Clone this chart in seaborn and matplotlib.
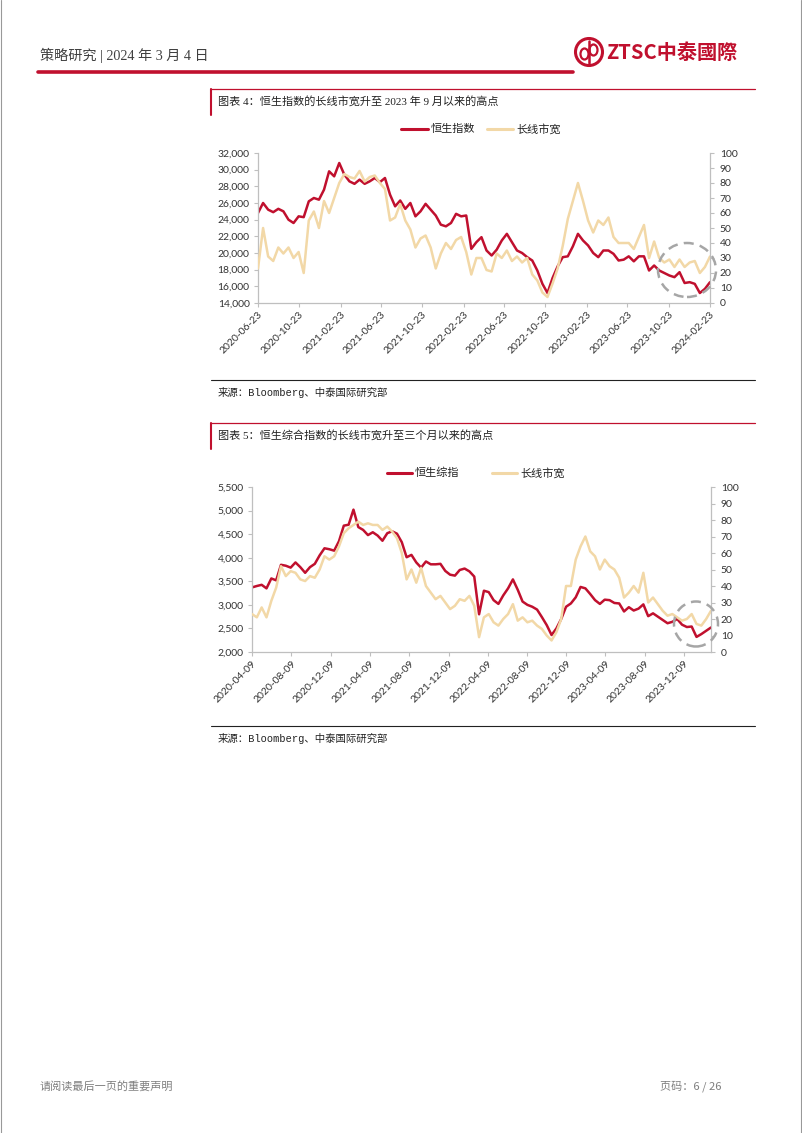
import numpy as np
import pandas as pd
import seaborn as sns
import matplotlib.pyplot as plt
from matplotlib.lines import Line2D
from matplotlib.patches import Ellipse

# ---------------- 数据 ----------------
# 图表4：恒生指数 vs 长线市宽（约每15天读一个点）
hsi_start, hsi_end = '2020-06-23', '2024-02-23'
hsi = [24800, 26000, 25200, 24900, 25300, 25000, 24000, 23600, 24400, 24300,
       26200, 26600, 26400, 27600, 29800, 29200, 30800, 29400, 28600, 28300,
       28800, 28300, 28600, 29000, 28500, 29000, 27000, 25600, 26300, 25300,
       26000, 24400, 25000, 25900, 25200, 24500, 23400, 23200, 23600, 24700,
       24400, 24500, 20500, 21300, 21900, 20300, 19700, 20400, 21500, 22300,
       21300, 20300, 20000, 19500, 19100, 17900, 16300, 15200, 17000, 18400,
       19500, 19600, 20800, 22300, 21500, 20900, 20000, 19500, 20300, 20300,
       19900, 19100, 19200, 19600, 19000, 19600, 19600, 17900, 18500, 17900,
       17600, 17300, 17100, 17700, 16400, 16500, 16300, 15200, 15700, 16500]
hsi_breadth = [23, 50, 31, 28, 37, 33, 37, 30, 34, 20,
               55, 61, 50, 68, 60, 70, 80, 86, 84, 83,
               88, 81, 84, 85, 80, 76, 55, 57, 66, 55,
               49, 37, 43, 45, 37, 23, 33, 40, 36, 42,
               44, 34, 19, 30, 30, 22, 21, 33, 30, 35,
               28, 31, 27, 30, 19, 15, 7, 4, 13, 23,
               38, 56, 68, 80, 68, 55, 47, 55, 52, 57,
               44, 40, 40, 40, 36, 44, 52, 30, 41, 30,
               27, 29, 24, 29, 24, 27, 28, 20, 24, 31]
hsi_ticks = ['2020-06-23', '2020-10-23', '2021-02-23', '2021-06-23', '2021-10-23',
             '2022-02-23', '2022-06-23', '2022-10-23', '2023-02-23', '2023-06-23',
             '2023-10-23', '2024-02-23']

# 图表5：恒生综指 vs 长线市宽
hsci_start, hsci_end = '2020-04-09', '2024-03-01'
hsci = [3370, 3400, 3425, 3350, 3560, 3520, 3850, 3830, 3790, 3900,
        3800, 3680, 3800, 3870, 4050, 4200, 4180, 4150, 4350, 4680,
        4700, 5020, 4650, 4590, 4480, 4540, 4470, 4360, 4520, 4560,
        4510, 4330, 4010, 4060, 3900, 3790, 3920, 3860, 3860, 3870,
        3720, 3640, 3620, 3740, 3770, 3710, 3600, 2800, 3300, 3270,
        3100, 3020, 3200, 3350, 3540, 3320, 3070, 3000, 2960, 2900,
        2740, 2570, 2360, 2500, 2700, 2960, 3030, 3160, 3380, 3350,
        3230, 3100, 3020, 3110, 3100, 3040, 3030, 2860, 2950, 2880,
        2920, 3010, 2760, 2820, 2750, 2680, 2610, 2640, 2700, 2580,
        2530, 2540, 2320, 2380, 2450, 2520]
hsci_breadth = [23, 21, 27, 21, 31, 39, 52, 46, 49, 48,
                44, 43, 46, 45, 50, 58, 56, 58, 64, 72,
                75, 77, 79, 77, 78, 77, 77, 74, 76, 73,
                69, 60, 44, 50, 42, 51, 40, 36, 32, 34,
                30, 26, 28, 32, 31, 34, 28, 9, 21, 23,
                18, 16, 20, 23, 29, 19, 21, 18, 19, 16,
                14, 10, 7, 12, 20, 40, 40, 56, 64, 70,
                61, 58, 50, 56, 52, 50, 45, 33, 36, 40,
                36, 48, 30, 33, 29, 25, 22, 23, 21, 19,
                20, 23, 17, 16, 20, 25]
hsci_ticks = ['2020-04-09', '2020-08-09', '2020-12-09', '2021-04-09', '2021-08-09',
              '2021-12-09', '2022-04-09', '2022-08-09', '2022-12-09', '2023-04-09',
              '2023-08-09', '2023-12-09']

# ---------------- 样式 ----------------
sns.set_style('white')
plt.rcParams['font.family'] = ['Noto Sans CJK SC', 'DejaVu Sans']

RED = '#C0102E'
TAN = '#F2D8A7'
AXC = '#BFBFBF'
TXT = '#333333'
SERIF_CJK = ['Liberation Serif', 'Noto Sans CJK SC']
MONO_CJK = ['Liberation Mono', 'Noto Sans CJK SC']

W, H = 802, 1133
fig = plt.figure(figsize=(W / 100, H / 100), dpi=100)


def fx(x):
    return x / W


def fy(y):
    return 1 - y / H


def hline(x0, x1, y, color, lw):
    fig.add_artist(Line2D([fx(x0), fx(x1)], [fy(y), fy(y)], color=color, lw=lw))


# 页面边框
fig.add_artist(Line2D([fx(0.5), fx(0.5)], [0, 1], color='#999999', lw=0.8))
fig.add_artist(Line2D([fx(801), fx(801)], [0, 1], color='#999999', lw=0.8))

# 页眉
fig.text(fx(40), fy(55), '策略研究 | 2024 年 3 月 4 日', fontsize=10.2, va='center',
         color='#404040', family=SERIF_CJK)
hline(38, 573, 72, RED, 2.6)
fig.add_artist(Ellipse((fx(589), fy(52)), 27 / W, 27 / H, transform=fig.transFigure,
                       fill=False, ec=RED, lw=2.2))
fig.add_artist(Line2D([fx(589), fx(589)], [fy(41), fy(63)], color=RED, lw=1.8))
fig.add_artist(Ellipse((fx(584.5), fy(54)), 8 / W, 11 / H, transform=fig.transFigure,
                       fill=False, ec=RED, lw=1.6))
fig.add_artist(Ellipse((fx(593.5), fy(50)), 8 / W, 11 / H, transform=fig.transFigure,
                       fill=False, ec=RED, lw=1.6))
fig.text(fx(606), fy(52), 'ZTSC中泰國際', fontsize=14.5, fontweight='bold', va='center',
         color=RED)

# 页脚
fig.text(fx(40), fy(1086), '请阅读最后一页的重要声明', fontsize=8, va='center', color='#7F7F7F')
fig.text(fx(660), fy(1086), '页码：6 / 26', fontsize=8, va='center', color='#7F7F7F')


def title_box(y_top, text):
    hline(211, 755, y_top, RED, 0.9)
    fig.add_artist(Line2D([fx(211), fx(211)], [fy(y_top), fy(y_top + 26)], color=RED, lw=1.5))
    fig.text(fx(218), fy(y_top + 12.5), text, fontsize=8, va='center', color='#222222',
             family=SERIF_CJK)


def source_line(y_line):
    hline(211, 755, y_line, '#222222', 0.8)
    fig.text(fx(218), fy(y_line + 13), '来源：Bloomberg、中泰国际研究部', fontsize=7.5,
             va='center', color='#222222', family=MONO_CJK)


def legend(y, items):
    for x0, x1, color, label in items:
        fig.add_artist(Line2D([fx(x0), fx(x1)], [fy(y), fy(y)], color=color, lw=2.2))
        fig.text(fx(x1 + 3), fy(y), label, fontsize=8, va='center', color='#222222')


def draw_chart(box, start, end, idx_vals, br_vals, ticks, ylim, ystep, circle):
    left, top, right, bottom = box
    ax = fig.add_axes([fx(left), fy(bottom), (right - left) / W, (bottom - top) / H])
    df = pd.DataFrame({
        'date': pd.date_range(start, end, periods=len(idx_vals)),
        'idx': idx_vals,
        'breadth': br_vals,
    })
    sns.lineplot(data=df, x='date', y='idx', ax=ax, color=RED, lw=1.8, legend=False)
    ax2 = ax.twinx()
    sns.lineplot(data=df, x='date', y='breadth', ax=ax2, color=TAN, lw=1.8, legend=False)

    ax.set_xlim(pd.Timestamp(start), pd.Timestamp(end))
    ax.set_ylim(*ylim)
    ax2.set_ylim(0, 100)
    for a in (ax, ax2):
        a.set_xlabel('')
        a.set_ylabel('')
        a.spines['top'].set_visible(False)

    ax.set_xticks(pd.to_datetime(ticks))
    ax.set_xticklabels(ticks, rotation=45, ha='right', rotation_mode='anchor',
                       fontfamily='Lato', fontsize=7.5, color=TXT)
    yt = np.arange(ylim[0], ylim[1] + 1, ystep)
    ax.set_yticks(yt)
    ax.set_yticklabels([f'{v:,}' for v in yt], fontfamily='Lato', fontsize=7.5, color=TXT)
    rt = np.arange(0, 101, 10)
    ax2.set_yticks(rt)
    ax2.set_yticklabels([str(v) for v in rt], fontfamily='Lato', fontsize=7.5, color=TXT)

    ax.spines['right'].set_visible(False)
    ax2.spines['left'].set_visible(False)
    ax2.spines['bottom'].set_visible(False)
    for sp in (ax.spines['left'], ax.spines['bottom'], ax2.spines['right']):
        sp.set_color(AXC)
        sp.set_linewidth(0.9)
    ax.tick_params(axis='x', bottom=True, direction='out', length=3, width=0.8, color=AXC, pad=2)
    ax.tick_params(axis='y', left=True, direction='out', length=3, width=0.8, color=AXC, pad=3)
    ax2.tick_params(axis='y', right=True, direction='out', length=3, width=0.8, color=AXC, pad=4)
    ax.patch.set_alpha(0)

    cx, cy, w, h = circle
    fig.add_artist(Ellipse((fx(cx), fy(cy)), w / W, h / H, transform=fig.transFigure,
                           fill=False, ec='#A6A6A6', lw=1.8, ls=(0, (4, 2.5))))


# 图表4
title_box(89, '图表 4：恒生指数的长线市宽升至 2023 年 9 月以来的高点')
legend(129, [(401, 428, RED, '恒生指数'), (487, 513, TAN, '长线市宽')])
draw_chart((258, 153, 710, 303), hsi_start, hsi_end, hsi, hsi_breadth, hsi_ticks,
           (14000, 32000), 2000, (687, 270, 58, 54))
source_line(380)

# 图表5
title_box(423, '图表 5：恒生综合指数的长线市宽升至三个月以来的高点')
legend(473, [(387, 412, RED, '恒生综指'), (492, 517, TAN, '长线市宽')])
draw_chart((252, 487, 711, 652), hsci_start, hsci_end, hsci, hsci_breadth, hsci_ticks,
           (2000, 5500), 500, (696, 624, 44, 45))
source_line(726)

fig.savefig('out.png', dpi=100)
